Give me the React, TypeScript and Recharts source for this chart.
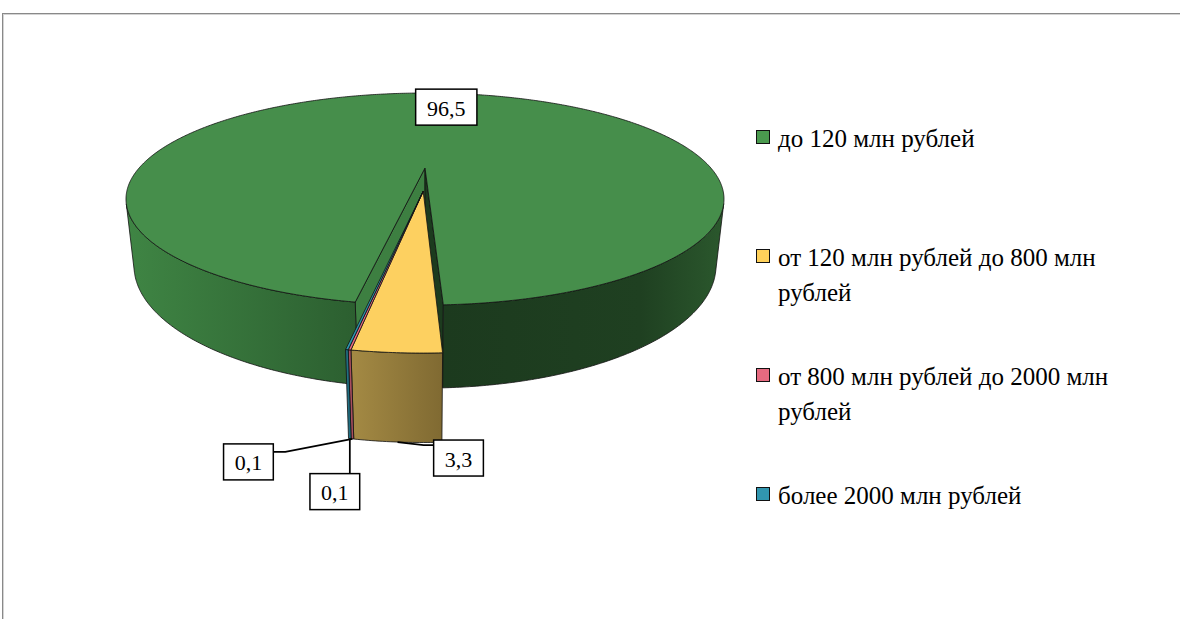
import { Legend, Pie, PieChart } from "recharts";

const categories = [
  "до 120 млн рублей",
  "от 120 млн рублей до 800 млн рублей",
  "от 800 млн рублей до 2000 млн рублей",
  "более 2000 млн рублей",
];
const shares = [96.5, 3.3, 0.1, 0.1];
const shareLabels = ["96,5", "3,3", "0,1", "0,1"];

const topColors = ["#468E4B", "#FDD060", "#E66A80", "#2E96AE"];
const legendColors = ["#4A9A4E", "#FFD15A", "#E66A80", "#3196AF"];
const cutColors = [
  ["#3D7F41", "#1C3B1E"],
  ["#C9A24A", "#C9A24A"],
  ["#B5556A", "#B5556A"],
  ["#247A8E", "#247A8E"],
];
const wallFills = ["url(#wall-green)", "url(#wall-yellow)", "#A94E5E", "#206F82"];
const exploded = [false, true, true, true];

const chartData = categories.map((name, i) => ({ name, value: shares[i] }));

const CX = 425;
const CY = 168;
const R = 100;
const START = 260;

// fake 3d camera: tilt, distance, focal length, disc thickness (radius units)
const COS_T = 0.941;
const SIN_T = 0.339;
const DIST = 3.216;
const FOCAL = 9.195;
const DEPTH = 0.239;
const EXPLODE = 0.225;
const EXPLODE_DIR = 268.5;
const RAD = Math.PI / 180;
const FONT = "'Liberation Serif', 'Times New Roman', 'DejaVu Serif', serif";
const LABEL_SIZE = 22;
const LEGEND_SIZE = 25;

// label boxes, relative to the anchor on the rim
const boxOffsets = [
  [7, 14],
  [61, 16],
  [-104, 23],
  [-15, 53],
];
const leaderKinds = ["none", "right", "left", "down"];

type SliceProps = {
  cx: number;
  cy: number;
  outerRadius: number;
  startAngle: number;
  endAngle: number;
  midAngle: number;
  index: number;
};

function offsetOf(i: number) {
  if (!exploded[i]) return [0, 0];
  return [EXPLODE * Math.cos(EXPLODE_DIR * RAD), -EXPLODE * Math.sin(EXPLODE_DIR * RAD)];
}

function project(p: SliceProps, x: number, y: number, z: number): [number, number] {
  const yc = y * COS_T - z * SIN_T;
  const zc = y * SIN_T + z * COS_T;
  const k = (FOCAL * p.outerRadius) / (DIST - zc);
  return [p.cx + x * k, p.cy - yc * k];
}

function rim(p: SliceProps, r: number, deg: number, y: number) {
  const [ox, oz] = offsetOf(p.index);
  const a = deg * RAD;
  return project(p, r * Math.cos(a) + ox, y, -r * Math.sin(a) + oz);
}

function arcAngles(from: number, to: number) {
  const n = Math.max(2, Math.ceil(Math.abs(to - from) / 0.5) + 1);
  return Array.from({ length: n }, (_, j) => from + ((to - from) * j) / (n - 1));
}

const toPath = (pts: [number, number][]) =>
  "M" + pts.map((q) => q[0].toFixed(2) + "," + q[1].toFixed(2)).join("L") + "Z";

const camZ = DIST * COS_T;

function wallVisible(i: number, deg: number) {
  const [ox, oz] = offsetOf(i);
  const a = deg * RAD;
  const nx = Math.cos(a);
  const nz = -Math.sin(a);
  return nx * -(nx + ox) + nz * (camZ - (nz + oz)) > 0;
}

function cutVisible(i: number, deg: number, sgn: number) {
  const [ox, oz] = offsetOf(i);
  const a = deg * RAD;
  const nx = -Math.sin(a) * sgn;
  const nz = -Math.cos(a) * sgn;
  const px = 0.5 * Math.cos(a) + ox;
  const pz = -0.5 * Math.sin(a) + oz;
  return nx * -px + nz * (camZ - pz) > 0;
}

const edge = { stroke: "#111", strokeWidth: 0.8, strokeLinejoin: "round" as const };

// radial cut faces (drawn first, behind every outer wall)
function Cuts(props: any) {
  const p = props as SliceProps;
  const i = p.index;
  const dir = p.endAngle < p.startAngle ? 1 : -1;
  const center = (y: number) => rim(p, 0, 0, y);
  const cuts: [number, number][] = [
    [p.startAngle, dir],
    [p.endAngle, -dir],
  ];
  return (
    <g>
      {cuts.map(([deg, sgn], k) =>
        cutVisible(i, deg, sgn) ? (
          <path
            key={k}
            d={toPath([center(0), rim(p, 1, deg, 0), rim(p, 1, deg, -DEPTH), center(-DEPTH)])}
            fill={cutColors[i][k]}
            {...edge}
          />
        ) : null
      )}
    </g>
  );
}

function Walls(props: any) {
  const p = props as SliceProps;
  const i = p.index;
  const segs: number[][] = [];
  let seg: number[] = [];
  arcAngles(p.startAngle, p.endAngle).forEach((a) => {
    if (wallVisible(i, a)) seg.push(a);
    else if (seg.length) {
      segs.push(seg);
      seg = [];
    }
  });
  if (seg.length) segs.push(seg);

  let defs = null;
  if (i === 0) {
    const xs = arcAngles(0, 360).map((a) => rim(p, 1, a, 0)[0]);
    defs = (
      <defs>
        <linearGradient
          id="wall-green"
          gradientUnits="userSpaceOnUse"
          x1={Math.min(...xs)}
          y1={0}
          x2={Math.max(...xs)}
          y2={0}
        >
          <stop offset="0" stopColor="#3F8544" />
          <stop offset="0.385" stopColor="#2C5F30" />
          <stop offset="0.53" stopColor="#1C3A1E" />
          <stop offset="0.86" stopColor="#1F4021" />
          <stop offset="1" stopColor="#2B582D" />
        </linearGradient>
        <linearGradient id="wall-yellow" x1="0" y1="0" x2="1" y2="0">
          <stop offset="0" stopColor="#A48A44" />
          <stop offset="1" stopColor="#806A32" />
        </linearGradient>
      </defs>
    );
  }
  return (
    <g>
      {defs}
      {segs
        .filter((s) => s.length > 1)
        .map((s, k) => {
          const top = s.map((a) => rim(p, 1, a, 0));
          const bottom = s
            .slice()
            .reverse()
            .map((a) => rim(p, 1, a, -DEPTH));
          return <path key={k} d={toPath([...top, ...bottom])} fill={wallFills[i]} {...edge} />;
        })}
    </g>
  );
}

function Tops(props: any) {
  const p = props as SliceProps;
  const pts = [rim(p, 0, 0, 0), ...arcAngles(p.startAngle, p.endAngle).map((a) => rim(p, 1, a, 0))];
  return <path d={toPath(pts)} fill={topColors[p.index]} {...edge} />;
}

// box width follows the label's character count
function boxWidth(s: string) {
  return s.split("").reduce((w, ch) => w + (ch === "," ? 0.25 : 0.5), 0) * 23 + 21;
}

function ValueLabel(props: any) {
  const p = props as SliceProps;
  const i = p.index;
  const [ax, ay] = i === 0 ? rim(p, 1, p.midAngle, 0) : rim(p, 1, p.midAngle, -DEPTH);
  const text = shareLabels[i];
  const w = boxWidth(text);
  const h = 36;
  const bx = ax + boxOffsets[i][0] - w / 2;
  const by = ay + boxOffsets[i][1] - h / 2;
  let leader = "";
  if (leaderKinds[i] === "right") leader = `M${ax},${ay}L${bx - 10},${by + 5}L${bx},${by + 5}`;
  if (leaderKinds[i] === "left") leader = `M${ax},${ay}L${bx + w + 12},${by + 8}L${bx + w},${by + 8}`;
  if (leaderKinds[i] === "down") leader = `M${ax},${ay}L${ax},${by}`;
  return (
    <g>
      {leader && <path d={leader} fill="none" stroke="#000" strokeWidth={1.75} />}
      <rect x={bx} y={by} width={w} height={h} fill="#fff" stroke="#000" strokeWidth={1.5} />
      <text
        x={bx + w / 2}
        y={by + h / 2 + 1}
        textAnchor="middle"
        dominantBaseline="central"
        style={{ fontFamily: FONT }}
        fontSize={LABEL_SIZE}
        fill="#000"
      >
        {text}
      </text>
    </g>
  );
}

function renderLegend() {
  return (
    <div style={{ fontFamily: FONT, fontSize: LEGEND_SIZE, lineHeight: "35px", color: "#000" }}>
      {categories.map((name, i) => (
        <div key={name} style={{ display: "flex", alignItems: "flex-start", height: 119 }}>
          <span
            style={{
              width: 14,
              height: 14,
              boxSizing: "border-box",
              border: "1px solid #111",
              background: legendColors[i],
              marginTop: 9,
              marginRight: 8,
              flex: "none",
            }}
          />
          <span style={{ width: 385 }}>{name}</span>
        </div>
      ))}
    </div>
  );
}

function App() {
  const pieCommon = {
    data: chartData,
    dataKey: "value",
    nameKey: "name",
    cx: CX,
    cy: CY,
    outerRadius: R,
    startAngle: START,
    endAngle: START - 360,
    fill: "none",
    stroke: "none",
    labelLine: false,
    legendType: "none" as const,
    isAnimationActive: false,
  };
  return (
    <div
      style={{
        position: "absolute",
        left: 0,
        top: 0,
        width: 1180,
        height: 619,
        overflow: "hidden",
        background: "#fff",
        fontFamily: FONT,
      }}
    >
      <div
        style={{
          position: "absolute",
          left: 2,
          top: 13,
          width: 1300,
          height: 800,
          border: "1px solid #898989",
          boxShadow: "inset 1px 1px 0 #d4d4d4",
        }}
      />
      <div style={{ position: "absolute", left: 0, top: 0 }}>
        <PieChart width={1180} height={619} margin={{ top: 0, right: 0, bottom: 0, left: 0 }}>
          <Pie {...pieCommon} label={Cuts} />
          <Pie {...pieCommon} label={Walls} />
          <Pie {...pieCommon} label={Tops} />
          <Pie {...pieCommon} label={ValueLabel} />
          <Legend
            layout="vertical"
            verticalAlign="top"
            align="right"
            content={renderLegend}
            wrapperStyle={{ position: "absolute", left: 756, top: 121, width: 420 }}
          />
        </PieChart>
      </div>
    </div>
  );
}

export default App;
